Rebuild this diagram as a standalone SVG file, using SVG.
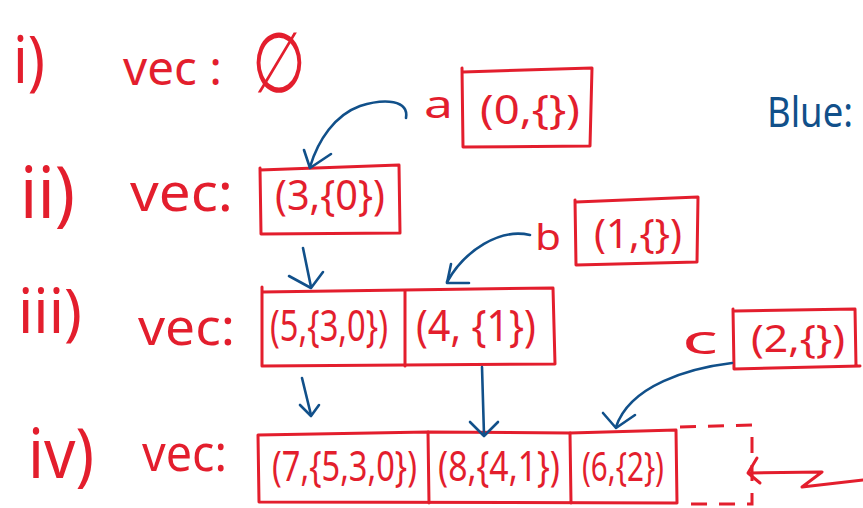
<svg xmlns="http://www.w3.org/2000/svg" width="863" height="508" viewBox="0 0 863 508">
<style>
.r{fill:none;stroke:#e31e2d;stroke-width:3;stroke-linecap:round;stroke-linejoin:round}
.rd{fill:none;stroke:#e31e2d;stroke-width:3;stroke-dasharray:16 12}
.b{fill:none;stroke:#11508a;stroke-width:2.6;stroke-linecap:round;stroke-linejoin:round}
.t{font-family:"Noto Sans","DejaVu Sans",sans-serif;fill:#e31e2d}
.tb{font-family:"Noto Sans","DejaVu Sans",sans-serif;fill:#11508a}
</style>
<rect width="863" height="508" fill="#ffffff"/>
<g id="row-i">
<text class="t" x="13" y="83" font-size="66" textLength="32" lengthAdjust="spacingAndGlyphs">i)</text>
<text class="t" x="123" y="85" font-size="48" textLength="99" lengthAdjust="spacingAndGlyphs">vec :</text>
<text class="t" x="252" y="92" font-size="84" textLength="54" lengthAdjust="spacingAndGlyphs" font-family="DejaVu Sans">∅</text>
</g>
<g id="node-a">
<text class="t" x="424" y="118" font-size="38" textLength="29" lengthAdjust="spacingAndGlyphs">a</text>
<path class="r" d="M462,68 L463,147 L590,146 L592,68 L463,72"/>
<text class="t" x="480" y="124" font-size="40" textLength="100" lengthAdjust="spacingAndGlyphs">(0,{})</text>
</g>
<g id="legend">
<text class="tb" x="767" y="127" font-size="41" textLength="86" lengthAdjust="spacingAndGlyphs">Blue:</text>
</g>
<g id="row-ii">
<text class="t" x="20" y="218" font-size="72" textLength="55" lengthAdjust="spacingAndGlyphs">ii)</text>
<text class="t" x="130" y="211" font-size="52" textLength="103" lengthAdjust="spacingAndGlyphs">vec:</text>
<path class="r" d="M260,168 L261,234 L400,233 L399,165 L260,170"/>
<text class="t" x="275" y="210" font-size="42" textLength="110" lengthAdjust="spacingAndGlyphs">(3,{0})</text>
</g>
<g id="node-b">
<text class="t" x="535" y="250" font-size="36" textLength="26" lengthAdjust="spacingAndGlyphs">b</text>
<path class="r" d="M575,200 L576,265 L697,262 L698,197 L576,202"/>
<text class="t" x="594" y="248" font-size="40" textLength="88" lengthAdjust="spacingAndGlyphs">(1,{})</text>
</g>
<g id="row-iii">
<text class="t" x="18" y="333" font-size="62" textLength="64" lengthAdjust="spacingAndGlyphs">iii)</text>
<text class="t" x="138" y="345" font-size="50" textLength="97" lengthAdjust="spacingAndGlyphs">vec:</text>
<path class="r" d="M262,287 L262,366 L555,364 L553,288 L262,292"/>
<path class="r" d="M405,291 L405,366"/>
<text class="t" x="270" y="341" font-size="44" textLength="118" lengthAdjust="spacingAndGlyphs">(5,{3,0})</text>
<text class="t" x="416" y="341" font-size="44" textLength="120" lengthAdjust="spacingAndGlyphs">(4, {1})</text>
</g>
<g id="node-c">
<text class="t" x="682" y="354" font-size="40" textLength="36" lengthAdjust="spacingAndGlyphs">c</text>
<path class="r" d="M733,309 L734,369 L860,366 M735,311 L855,309 L856,366"/>
<text class="t" x="751" y="352" font-size="38" textLength="94" lengthAdjust="spacingAndGlyphs">(2,{})</text>
</g>
<g id="row-iv">
<text class="t" x="28" y="478" font-size="70" textLength="66" lengthAdjust="spacingAndGlyphs">iv)</text>
<text class="t" x="142" y="471" font-size="50" textLength="85" lengthAdjust="spacingAndGlyphs">vec:</text>
<path class="r" d="M258,435 L259,502 L676,503 M258,435 L428,432 L570,433 L676,430 L677,503"/>
<path class="r" d="M428,432 L429,503 M570,433 L571,503"/>
<path class="rd" d="M680,427 L752,425 L752,504 L680,504"/>
<text class="t" transform="translate(272,481) scale(1,1.18)" x="0" y="0" font-size="36" textLength="145" lengthAdjust="spacingAndGlyphs">(7,{5,3,0})</text>
<text class="t" transform="translate(438,481) scale(1,1.18)" x="0" y="0" font-size="36" textLength="122" lengthAdjust="spacingAndGlyphs">(8,{4,1})</text>
<text class="t" transform="translate(582,481) scale(1,1.18)" x="0" y="0" font-size="34" textLength="82" lengthAdjust="spacingAndGlyphs">(6,{2})</text>
</g>
<g id="connectors">
<path class="b" d="M406,118 C409,100 385,98 360,106 C335,115 318,140 310,167"/>
<path class="b" d="M304,150 L310,168 L331,154"/>
<path class="b" d="M303,248 L311,287"/>
<path class="b" d="M289,276 L311,288 L323,272"/>
<path class="b" d="M530,235 C500,228 465,250 447,282"/>
<path class="b" d="M451,264 L447,283 L469,283"/>
<path class="b" d="M302,378 L311,415"/>
<path class="b" d="M300,405 L311,416 L319,405"/>
<path class="b" d="M482,367 L484,435"/>
<path class="b" d="M470,422 L484,436 L498,422"/>
<path class="b" d="M732,363 C690,368 630,385 616,427"/>
<path class="b" d="M603,413 L616,428 L635,415"/>
<path class="r" d="M863,480 L802,487 L822,472 L750,473"/>
<path class="r" d="M757,458 L748,473 L760,483"/>
</g>
</svg>
